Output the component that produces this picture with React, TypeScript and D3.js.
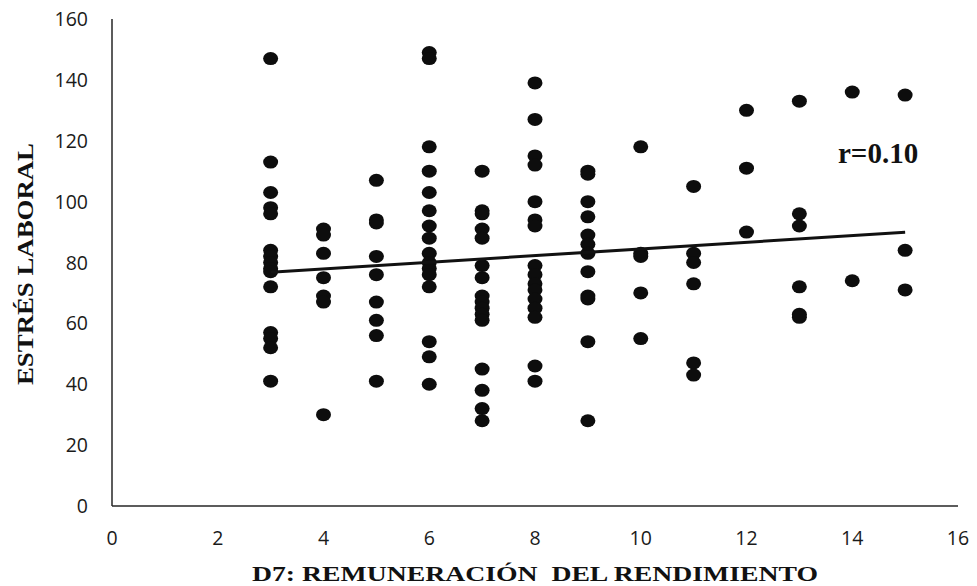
import React from "react";
import * as d3 from "d3";

// D7 score (x) and the matching work-stress scores (y), grouped by x value
const groupX = [3, 4, 5, 6, 7, 8, 9, 10, 11, 12, 13, 14, 15];
const stress3 = [147, 113, 103, 98, 96, 84, 82, 80, 78, 77, 72, 57, 55, 52, 41];
const stress4 = [91, 89, 83, 75, 69, 67, 30];
const stress5 = [107, 94, 93, 82, 76, 67, 61, 56, 41];
const stress6 = [149, 147, 118, 110, 103, 97, 92, 88, 83, 80, 78, 76, 72, 54, 49, 40];
const stress7 = [110, 97, 96, 91, 88, 79, 75, 69, 67, 65, 63, 61, 45, 38, 32, 28];
const stress8 = [139, 127, 115, 112, 100, 94, 92, 79, 76, 73, 71, 68, 65, 62, 46, 41];
const stress9 = [110, 109, 100, 95, 89, 86, 83, 77, 69, 68, 54, 28];
const stress10 = [118, 83, 82, 70, 55];
const stress11 = [105, 83, 80, 73, 47, 43];
const stress12 = [130, 111, 90];
const stress13 = [133, 96, 92, 72, 63, 62];
const stress14 = [136, 74];
const stress15 = [135, 84, 71];
const stressGroups = [
  stress3, stress4, stress5, stress6, stress7, stress8, stress9,
  stress10, stress11, stress12, stress13, stress14, stress15,
];

const xTicks = [0, 2, 4, 6, 8, 10, 12, 14, 16];
const yTicks = [0, 20, 40, 60, 80, 100, 120, 140, 160];
const corrLabel = "r=0.10";
const xTitle = "D7: REMUNERACIÓN  DEL RENDIMIENTO";
const yTitle = "ESTRÉS LABORAL";

const W = 977;
const H = 586;

export default function App() {
  const points = groupX.flatMap((gx, i) => stressGroups[i].map((v) => ({ x: gx, y: v })));

  const x = d3.scaleLinear().domain([0, 16]).range([112, 958]);
  const y = d3.scaleLinear().domain([0, 160]).range([506, 19]);

  // least-squares trend line over the observed x range
  const mx = d3.mean(points, (p) => p.x) as number;
  const my = d3.mean(points, (p) => p.y) as number;
  const sxy = d3.sum(points, (p) => (p.x - mx) * (p.y - my));
  const sxx = d3.sum(points, (p) => (p.x - mx) ** 2);
  const slope = sxy / sxx;
  const intercept = my - slope * mx;
  const xMin = d3.min(points, (p) => p.x) as number;
  const xMax = d3.max(points, (p) => p.x) as number;
  const trend = d3.line<number>()
    .x((d) => x(d))
    .y((d) => y(intercept + slope * d))([xMin, xMax]) as string;

  const tickFont = "'Open Sans', 'Noto Sans', sans-serif";
  const titleFont = "'Liberation Serif', 'DejaVu Serif', serif";

  return (
    <svg width={W} height={H} style={{ position: "absolute", left: 0, top: 0, background: "#fff" }}>
      {/* axes */}
      <line x1={x(0)} x2={x(0)} y1={y(160)} y2={y(0)} stroke="#262626" strokeWidth={1.5} />
      <line x1={x(0)} x2={x(16)} y1={y(0)} y2={y(0)} stroke="#262626" strokeWidth={1.5} />

      {xTicks.map((t) => (
        <text key={"xt" + t} x={x(t)} y={545} textAnchor="middle" fontFamily={tickFont} fontSize={19.5} fill="#1a1a1a">
          {t}
        </text>
      ))}
      {yTicks.map((t) => (
        <text key={"yt" + t} x={88} y={y(t)} dy="0.36em" textAnchor="end" fontFamily={tickFont} fontSize={19.5} fill="#1a1a1a">
          {t}
        </text>
      ))}

      {/* scatter points */}
      {points.map((p, i) => (
        <ellipse key={i} cx={x(p.x)} cy={y(p.y)} rx={7.5} ry={6.5} fill="#0d0d0d" />
      ))}

      {/* trend line */}
      <path d={trend} stroke="#111" strokeWidth={3} fill="none" />

      <text x={838} y={163} fontFamily={titleFont} fontWeight="bold" fontSize={29} fill="#111">
        {corrLabel}
      </text>

      <text x={535} y={581} textAnchor="middle" fontFamily={titleFont} fontWeight="bold" fontSize={21}
        textLength={566} lengthAdjust="spacingAndGlyphs" fill="#111" style={{ whiteSpace: "pre" }}>
        {xTitle}
      </text>
      <text transform={`translate(33,264) rotate(-90)`} textAnchor="middle" fontFamily={titleFont} fontWeight="bold"
        fontSize={24} textLength={242} lengthAdjust="spacingAndGlyphs" fill="#111">
        {yTitle}
      </text>
    </svg>
  );
}
